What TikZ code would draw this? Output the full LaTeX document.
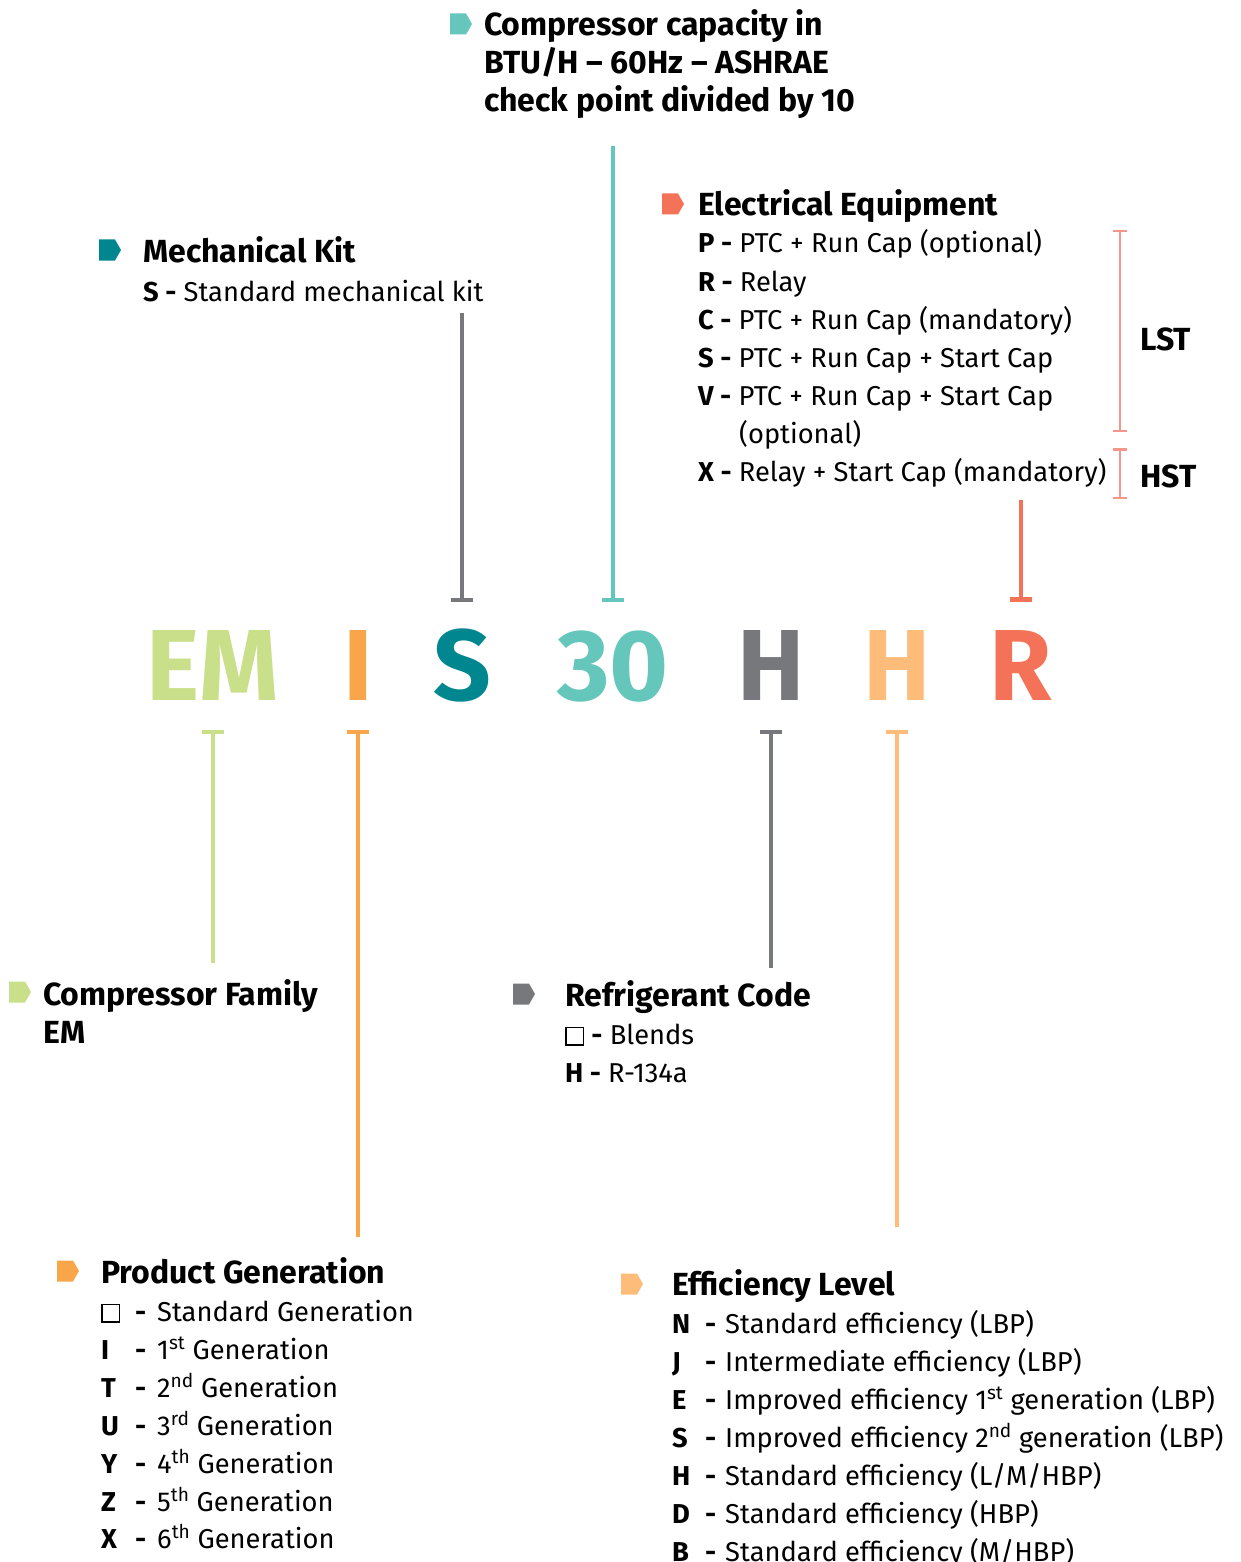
\documentclass[tikz,border=0pt]{standalone}
\usepackage{fontspec}
\setmainfont{Fira Sans}
\usetikzlibrary{arrows.meta}

\definecolor{famgreen}{HTML}{C9DF8A}
\definecolor{genorange}{HTML}{F9A64A}
\definecolor{kitteal}{HTML}{00868F}
\definecolor{captur}{HTML}{65C6BB}
\definecolor{refgray}{HTML}{77787B}
\definecolor{efforange}{HTML}{FDBC79}
\definecolor{elecred}{HTML}{F37258}
\definecolor{bracketred}{HTML}{F4978A}

\newcommand\emptybox{{\setlength\fboxsep{0pt}\setlength\fboxrule{1.5pt}\fbox{\rule{0pt}{16pt}\hspace{16pt}}}}
\newcommand\genrow[2]{\makebox[34pt][l]{\textbf{#1}}\makebox[22pt][l]{\textbf{-}}#2}
\newcommand\effrow[2]{\makebox[33pt][l]{\textbf{#1}}\makebox[20pt][l]{\textbf{-}}#2}

\tikzset{
  head/.style={anchor=base west, inner sep=0pt, font=\fontsize{32}{36}\selectfont\bfseries},
  entry/.style={anchor=base west, inner sep=0pt, font=\fontsize{27.3}{36}\selectfont},
  code/.style={anchor=base, inner sep=0pt, text height=70pt, text depth=0pt,
    font=\fontsize{101}{101}\selectfont\bfseries},
  lead/.style={line width=4pt, -{Bar[width=22pt]}},
  bracket/.style={line width=2.5pt, bracketred, {Bar[width=14pt]}-{Bar[width=14pt]}},
  tag/.pic={\path[pic actions] (-11,-10.5) -- (5,-10.5) -- (11,0) -- (5,10.5) -- (-11,10.5) -- cycle;},
}

\begin{document}
\begin{tikzpicture}[x=1pt, y=-1pt]
  \useasboundingbox (0,0) rectangle (1241,1562);

  % model code
  \node[code, text=famgreen] (em) at (213,700) {EM};
  \node[code, text=genorange] (i) at (358,700) {I};
  \node[code, text=kitteal] (s) at (462,700) {S};
  \node[code, text=captur] (thirty) at (613,700) {30};
  \node[code, text=refgray] (h1) at (771,700) {H};
  \node[code, text=efforange] (h2) at (897,700) {H};
  \node[code, text=elecred] (r) at (1021,700) {R};

  % Compressor capacity
  \pic[fill=captur] at (461,24) {tag};
  \node[head] (cap1) at (484,36) {Compressor capacity in};
  \node[head] (cap2) at (484,74) {BTU/H -- 60Hz -- ASHRAE};
  \node[head] (cap3) at (484,112) {check point divided by 10};

  % Electrical Equipment
  \pic[fill=elecred] at (673,204) {tag};
  \node[head] (elec) at (698,216) {Electrical Equipment};
  \node[entry] (elec-p) at (698,253) {\textbf{P -} PTC + Run Cap (optional)};
  \node[entry] (elec-r) at (698,291) {\textbf{R -} Relay};
  \node[entry] (elec-c) at (698,329) {\textbf{C -} PTC + Run Cap (mandatory)};
  \node[entry] (elec-s) at (698,367) {\textbf{S -} PTC + Run Cap + Start Cap};
  \node[entry] (elec-v) at (698,405) {\textbf{V -} PTC + Run Cap + Start Cap};
  \node[entry] (elec-v2) at (739,443) {(optional)};
  \node[entry] (elec-x) at (698,481) {\textbf{X -} Relay + Start Cap (mandatory)};
  \draw[bracket] (1120,230) -- (1120,432);
  \draw[bracket] (1120,448) -- (1120,499);
  \node[head] (lst) at (1140,350) {LST};
  \node[head] (hst) at (1140,487) {HST};

  % Mechanical Kit
  \pic[fill=kitteal] at (110,250) {tag};
  \node[head] (kit) at (143,262) {Mechanical Kit};
  \node[entry] (kit-s) at (143,301) {\textbf{S -} Standard mechanical kit};

  % Compressor Family
  \pic[fill=famgreen] at (20,992) {tag};
  \node[head] (fam) at (43,1005) {Compressor Family};
  \node[head] (fam-em) at (43,1043) {EM};

  % Refrigerant Code
  \pic[fill=refgray] at (524,994) {tag};
  \node[head] (ref) at (565,1006) {Refrigerant Code};
  \node[entry] (ref-box) at (565,1044) {\emptybox\ \textbf{-} Blends};
  \node[entry] (ref-h) at (565,1082) {\textbf{H -} R-134a};

  % Product Generation
  \pic[fill=genorange] at (68,1271) {tag};
  \node[head] (gen) at (101,1283) {Product Generation};
  \node[entry] (gen-0) at (101,1321) {\genrow{\emptybox}{Standard Generation}};
  \node[entry] (gen-i) at (101,1359) {\genrow{I}{1\textsuperscript{st} Generation}};
  \node[entry] (gen-t) at (101,1397) {\genrow{T}{2\textsuperscript{nd} Generation}};
  \node[entry] (gen-u) at (101,1435) {\genrow{U}{3\textsuperscript{rd} Generation}};
  \node[entry] (gen-y) at (101,1473) {\genrow{Y}{4\textsuperscript{th} Generation}};
  \node[entry] (gen-z) at (101,1511) {\genrow{Z}{5\textsuperscript{th} Generation}};
  \node[entry] (gen-x) at (101,1548) {\genrow{X}{6\textsuperscript{th} Generation}};

  % Efficiency Level
  \pic[fill=efforange] at (632,1284) {tag};
  \node[head] (eff) at (672,1295) {Efficiency Level};
  \node[entry] (eff-n) at (672,1333) {\effrow{N}{Standard efficiency (LBP)}};
  \node[entry] (eff-j) at (672,1371) {\effrow{J}{Intermediate efficiency (LBP)}};
  \node[entry] (eff-e) at (672,1409) {\effrow{E}{Improved efficiency 1\textsuperscript{st} generation (LBP)}};
  \node[entry] (eff-s) at (672,1447) {\effrow{S}{Improved efficiency 2\textsuperscript{nd} generation (LBP)}};
  \node[entry] (eff-h) at (672,1485) {\effrow{H}{Standard efficiency (L/M/HBP)}};
  \node[entry] (eff-d) at (672,1523) {\effrow{D}{Standard efficiency (HBP)}};
  \node[entry] (eff-b) at (672,1561) {\effrow{B}{Standard efficiency (M/HBP)}};

  % leaders
  \coordinate (kit-end) at (462,313);
  \coordinate (cap-end) at (613,146);
  \coordinate (elec-end) at (1021,500);
  \coordinate (fam-end) at (213,963);
  \coordinate (gen-end) at (358,1237);
  \coordinate (ref-end) at (771,968);
  \coordinate (eff-end) at (897,1227);
  \draw[lead, refgray] (kit-end) -- ([yshift=28pt]s.north);
  \draw[lead, captur] (cap-end) -- ([yshift=28pt]thirty.north);
  \draw[lead, elecred, line width=4.5pt] (elec-end) -- ([yshift=28pt]r.north);
  \draw[lead, famgreen, line width=3.5pt] (fam-end) -- ([yshift=-30pt]em.south);
  \draw[lead, genorange] (gen-end) -- ([yshift=-30pt]i.south);
  \draw[lead, refgray] (ref-end) -- ([yshift=-30pt]h1.south);
  \draw[lead, efforange] (eff-end) -- ([yshift=-30pt]h2.south);
\end{tikzpicture}
\end{document}
